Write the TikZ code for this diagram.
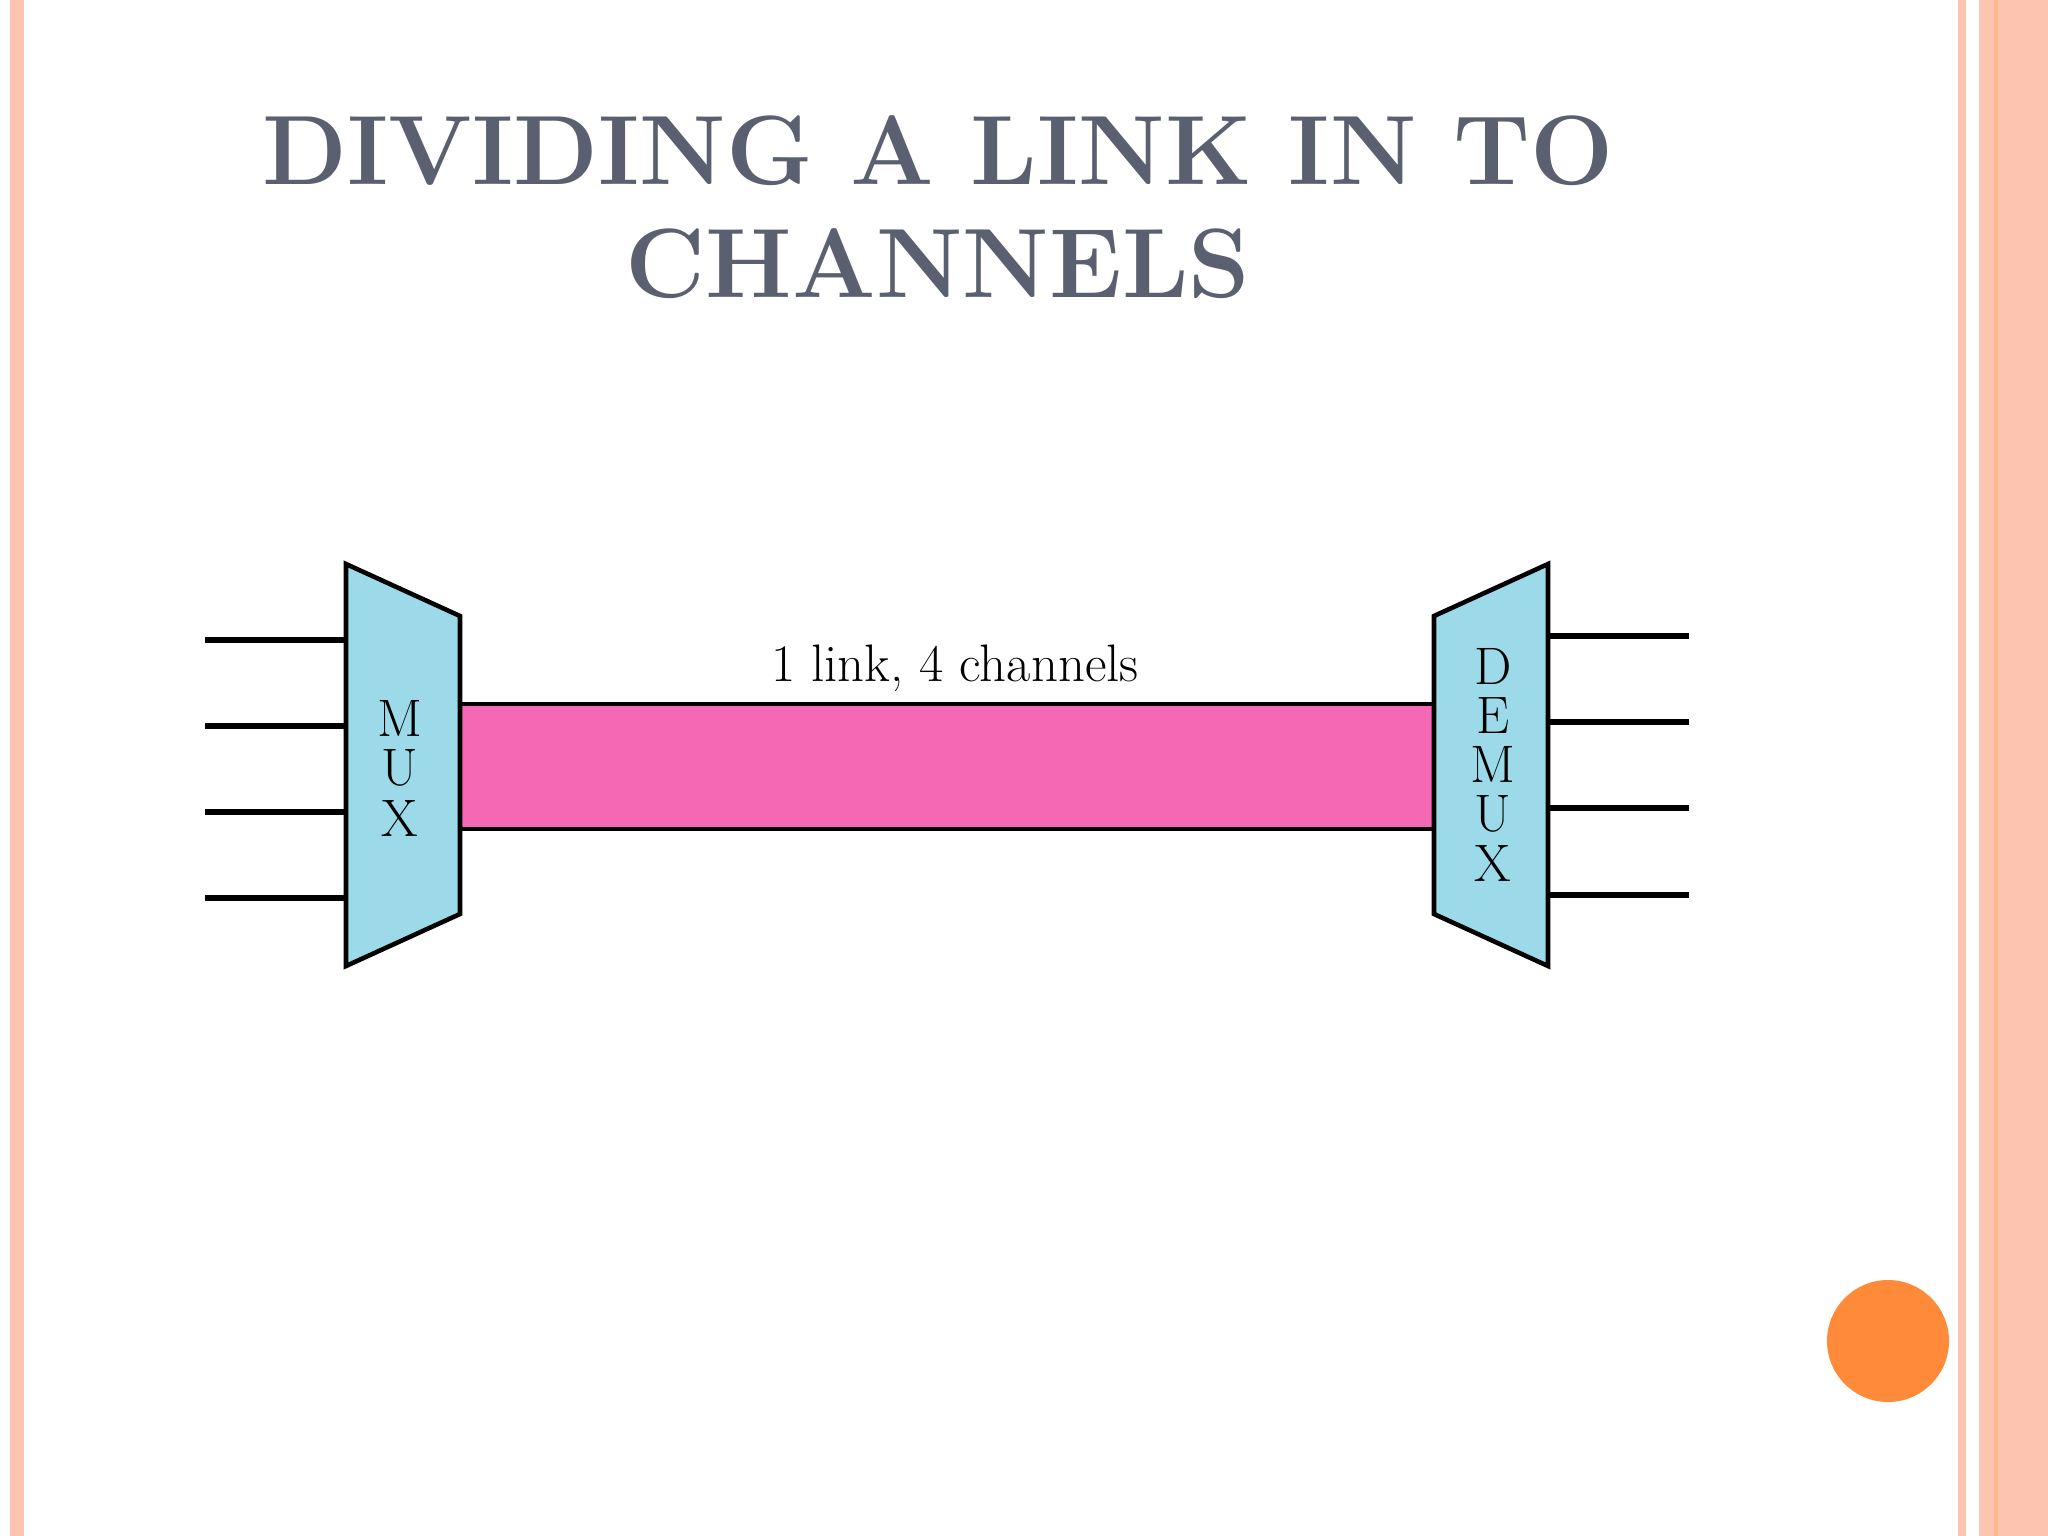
\documentclass[tikz,border=0pt]{standalone}
\usepackage{xcolor}
\definecolor{strip}{HTML}{FDC5B0}
\definecolor{ttl}{HTML}{5A6070}
\definecolor{boxc}{HTML}{9CDAEA}
\definecolor{band}{HTML}{F468B4}
\definecolor{orng}{HTML}{FE8A3A}
\tikzset{box/.style={draw=black,fill=boxc,line width=1.3pt},
 wire/.style={draw=black,line width=1.8pt},
 lt/.style={font=\fontsize{15}{15}\selectfont}}
\begin{document}
\begin{tikzpicture}[x=0.01cm,y=-0.01cm]
\useasboundingbox (0,0) rectangle (2048,1536);
\fill[white] (0,0) rectangle (2048,1536);
\fill[strip] (10,0) rectangle (24,1536);
\fill[strip] (1958,0) rectangle (1966,1536);
\fill[strip] (1979,0) rectangle (2048,1536);
\fill[strip!80!orange] (1994,0) rectangle (1998,1536);
\node[text=ttl,font=\bfseries\fontsize{28}{32}\selectfont,align=center] (title) at (938,207) {DIVIDING A LINK IN TO\\CHANNELS};
\fill[band,draw=black,line width=1.2pt] (460,704) rectangle (1434,829);
\coordinate (bandtop) at (947,704);
\node[lt,anchor=base] (lbl) at (955,681) {1 link, 4 channels};
\draw[box] (346,564) -- (460,616) -- (460,914) -- (346,966) -- cycle;
\draw[box] (1434,616) -- (1548,564) -- (1548,966) -- (1434,914) -- cycle;
\foreach \l/\y in {M/718,U/768,X/818} \node[lt] at (400,\y) {\l};
\foreach \l/\y in {D/666,E/716,M/764,U/814,X/863} \node[lt] at (1493,\y) {\l};
\foreach \y in {640,726,812,898} \draw[wire] (205,\y) -- (346,\y);
\foreach \y in {636,722,808,895} \draw[wire] (1548,\y) -- (1689,\y);
\fill[orng] (1888,1341) circle (61);
\end{tikzpicture}
\end{document}
